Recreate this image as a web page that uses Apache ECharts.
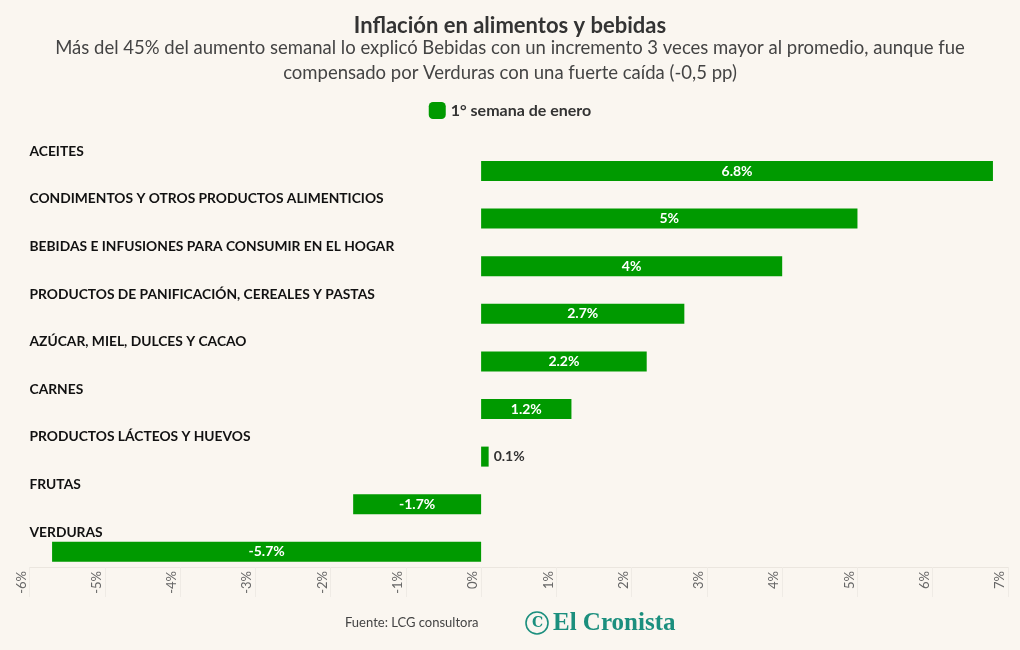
<!DOCTYPE html>
<html><head><meta charset="utf-8">
<script src="https://cdn.jsdelivr.net/npm/echarts@6/dist/echarts.min.js"></script>
<style>html,body{margin:0;padding:0;background:#faf6f0;}#c{width:1020px;height:650px;}</style>
</head><body><div id="c"></div>
<script>
const categories = ["ACEITES","CONDIMENTOS Y OTROS PRODUCTOS ALIMENTICIOS","BEBIDAS E INFUSIONES PARA CONSUMIR EN EL HOGAR","PRODUCTOS DE PANIFICACIÓN, CEREALES Y PASTAS","AZÚCAR, MIEL, DULCES Y CACAO","CARNES","PRODUCTOS LÁCTEOS Y HUEVOS","FRUTAS","VERDURAS"];
const values = [6.8, 5, 4, 2.7, 2.2, 1.2, 0.1, -1.7, -5.7];
const seriesName = "1° semana de enero";
const xTicks = {min: -6, max: 7, interval: 1};

const green = '#009a00';
const font = 'Lato';
const chart = echarts.init(document.getElementById('c'), null, {renderer: 'canvas'});
const barData = values.map(v => Math.abs(v) < 0.5 ? {
  value: v, label: {position: 'right', color: '#333', distance: 5}
} : v);
chart.setOption({
  backgroundColor: '#faf6f0',
  animation: false,
  title: {
    text: 'Inflación en alimentos y bebidas',
    left: 'center', top: 10,
    textStyle: {fontFamily: font, fontWeight: 'bold', fontSize: 22, color: '#333'}
  },
  legend: {
    data: [seriesName], top: 97, left: 'center',
    itemWidth: 17, itemHeight: 17, icon: 'roundRect', itemGap: 5,
    textStyle: {fontFamily: font, fontWeight: 'bold', fontSize: 16, color: '#333'}
  },
  grid: {left: 29.5, right: 12, top: 138.6, bottom: 83, containLabel: false},
  xAxis: {
    type: 'value', min: xTicks.min, max: xTicks.max, interval: xTicks.interval,
    axisLine: {show: true, lineStyle: {color: '#ebe6df', width: 1}},
    axisTick: {show: true, length: 30, lineStyle: {color: '#efebe5'}},
    splitLine: {show: false},
    axisLabel: {rotate: 90, formatter: v => v + '%', color: '#666', fontFamily: font, fontSize: 13, margin: 4,
      verticalAlign: 'bottom', lineHeight: 16}
  },
  yAxis: {
    type: 'category', data: categories, inverse: true,
    axisLine: {show: false}, axisTick: {show: false},
    axisLabel: {inside: true, margin: 0, color: '#111', fontFamily: font, fontWeight: 'bold', fontSize: 13.8,
      verticalAlign: 'bottom', lineHeight: 22}
  },
  series: [{
    name: 'spacer', type: 'bar', data: categories.map(() => 0), barWidth: 17.2, barGap: '0%',
    itemStyle: {color: 'transparent'}, silent: true
  }, {
    name: seriesName, type: 'bar', data: barData, barWidth: 20, barGap: '0%',
    itemStyle: {color: green},
    label: {show: true, position: 'inside', formatter: p => p.value + '%', color: '#fff',
      fontFamily: font, fontWeight: 'bold', fontSize: 14}
  }],
  graphic: [{
    type: 'text', x: 510, y: 48,
    style: {text: 'Más del 45% del aumento semanal lo explicó Bebidas con un incremento 3 veces mayor al promedio, aunque fue',
      fill: '#444', font: '18.5px Lato', align: 'center', verticalAlign: 'middle'}
  }, {
    type: 'text', x: 510, y: 73,
    style: {text: 'compensado por Verduras con una fuerte caída (-0,5 pp)',
      fill: '#444', font: '18.5px Lato', align: 'center', verticalAlign: 'middle'}
  }, {
    type: 'text', left: 345, top: 616,
    style: {text: 'Fuente: LCG consultora', fill: '#444', font: '13px Lato'}
  }, {
    type: 'circle', shape: {cx: 537, cy: 623, r: 11}, style: {fill: 'none', stroke: '#1b8f7e', lineWidth: 1.6}
  }, {
    type: 'text', x: 537.5, y: 623.5,
    style: {text: 'C', fill: '#1b8f7e', font: 'bold 14px "DejaVu Serif"', align: 'center', verticalAlign: 'middle'}
  }, {
    type: 'text', left: 553, top: 611,
    style: {text: 'El Cronista', fill: '#1b8f7e', font: 'bold 25px "Liberation Serif"'}
  }]
});
</script></body></html>
